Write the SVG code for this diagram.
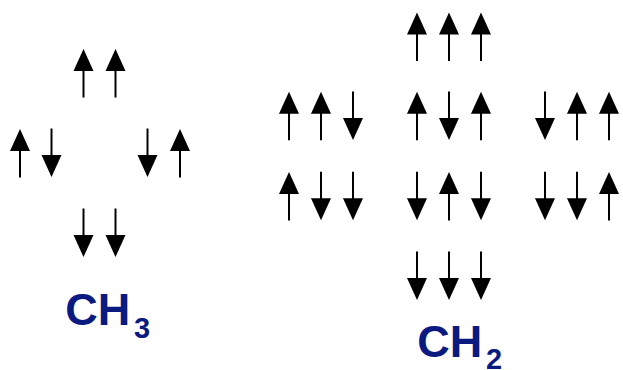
<svg xmlns="http://www.w3.org/2000/svg" xmlns:xlink="http://www.w3.org/1999/xlink" width="623" height="370" viewBox="0 0 623 370">
<style>
.shaft{stroke:#000;stroke-width:2;fill:none}
.head{fill:#000;stroke:none}
.lbl{font-family:"Liberation Sans",Arial,sans-serif;font-weight:bold;fill:#0b1a7e}
</style>
<defs>
<g id="up"><line class="shaft" x1="0" y1="20" x2="0" y2="48.5"/><polygon class="head" points="0,0 -10,22 10,22"/></g>
<g id="dn"><line class="shaft" x1="0" y1="0" x2="0" y2="28.5"/><polygon class="head" points="0,48.5 -10,26.5 10,26.5"/></g>
</defs>
<rect width="623" height="370" fill="#fff"/>
<g id="ch3-top"><use href="#up" x="83.5" y="49"/><use href="#up" x="115.5" y="49"/></g>
<g id="ch3-left"><use href="#up" x="20" y="129"/><use href="#dn" x="51.5" y="128.5"/></g>
<g id="ch3-right"><use href="#dn" x="147.5" y="128.5"/><use href="#up" x="180" y="129"/></g>
<g id="ch3-bottom"><use href="#dn" x="83.5" y="208.5"/><use href="#dn" x="115.5" y="208.5"/></g>
<g id="ch3-label"><text class="lbl" x="65.3" y="325" font-size="45">CH<tspan font-size="29" x="134" y="337.5">3</tspan></text></g>
<g id="ch2-r1c2"><use href="#up" x="417" y="12.5"/><use href="#up" x="449" y="12.5"/><use href="#up" x="481" y="12.5"/></g>
<g id="ch2-r2c1"><use href="#up" x="289" y="91.7"/><use href="#up" x="321" y="91.7"/><use href="#dn" x="353" y="91.5"/></g>
<g id="ch2-r2c2"><use href="#up" x="417" y="91.7"/><use href="#dn" x="449" y="91.5"/><use href="#up" x="481" y="91.7"/></g>
<g id="ch2-r2c3"><use href="#dn" x="545" y="91.5"/><use href="#up" x="577" y="91.7"/><use href="#up" x="609" y="91.7"/></g>
<g id="ch2-r3c1"><use href="#up" x="289" y="172"/><use href="#dn" x="321" y="171.7"/><use href="#dn" x="353" y="171.7"/></g>
<g id="ch2-r3c2"><use href="#dn" x="417" y="171.7"/><use href="#up" x="449" y="172"/><use href="#dn" x="481" y="171.7"/></g>
<g id="ch2-r3c3"><use href="#dn" x="545" y="171.7"/><use href="#dn" x="577" y="171.7"/><use href="#up" x="609" y="172"/></g>
<g id="ch2-r4c2"><use href="#dn" x="417" y="251.5"/><use href="#dn" x="449" y="251.5"/><use href="#dn" x="481" y="251.5"/></g>
<g id="ch2-label"><text class="lbl" x="417.3" y="356.7" font-size="45">CH<tspan font-size="29" x="486" y="369">2</tspan></text></g>
</svg>
